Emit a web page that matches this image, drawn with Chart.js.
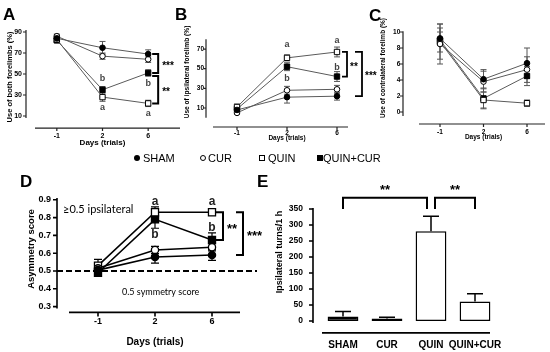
<!DOCTYPE html>
<html>
<head>
<meta charset="utf-8">
<script src="https://cdn.jsdelivr.net/npm/chart.js@4.4.0/dist/chart.umd.min.js"></script>
<style>
  html, body { margin: 0; padding: 0; background: #fff; }
  #page { position: relative; width: 550px; height: 352px; overflow: hidden; font-family: Arial, "Liberation Sans", sans-serif; }
  #page canvas { position: absolute; left: 0; top: 0; }
  .letter { position: absolute; font-weight: bold; font-size: 17px; line-height: 17px; color: #000; }
  .leg { position: absolute; top: 152.6px; font-size: 11px; line-height: 11px; color: #000; white-space: nowrap; }
  .mk { position: absolute; top: 155px; width: 6px; height: 6px; box-sizing: border-box; }
  .dot { background: #000; border-radius: 50%; }
  .ring { border: 1px solid #000; border-radius: 50%; }
  .box { border: 1.5px solid #000; }
  .blk { background: #000; }
</style>
</head>
<body>
<div id="page">
  <canvas id="chartA" width="550" height="352"></canvas>
  <canvas id="chartB" width="550" height="352"></canvas>
  <canvas id="chartC" width="550" height="352"></canvas>
  <canvas id="chartD" width="550" height="352"></canvas>
  <canvas id="chartE" width="550" height="352"></canvas>

  <div class="letter" style="left:3px;top:6px">A</div>
  <div class="letter" style="left:175px;top:6px">B</div>
  <div class="letter" style="left:369px;top:7px">C</div>
  <div class="letter" style="left:20px;top:173px">D</div>
  <div class="letter" style="left:257px;top:173px">E</div>

  <span class="mk dot" style="left:134px"></span><div class="leg" style="left:143px">SHAM</div>
  <span class="mk ring" style="left:200px"></span><div class="leg" style="left:208px">CUR</div>
  <span class="mk box" style="left:259px"></span><div class="leg" style="left:268px">QUIN</div>
  <span class="mk blk" style="left:317px"></span><div class="leg" style="left:323px">QUIN+CUR</div>
</div>
<script>
var days = ['-1', '2', '6'];
var groups = ['SHAM', 'CUR', 'QUIN', 'QUIN+CUR'];

// A: use of both forelimbs (%)
var bothSham = [84, 75, 69];
var bothCur = [86, 67, 64];
var bothQuin = [83, 28, 22];
var bothQuinCur = [82, 35, 51];
var bothShamErr = [3, 6, 4];
var bothCurErr = [2, 3, 3];
var bothQuinErr = [3, 4, 3];
var bothQuinCurErr = [2, 3, 3];
var bothTicks = [10, 30, 50, 70, 90];

// B: use of ipsilateral forelimb (%)
var ipsiSham = [8, 21, 22];
var ipsiCur = [5, 28, 29];
var ipsiQuin = [11, 61, 67];
var ipsiQuinCur = [9, 52, 42];
var ipsiShamErr = [2, 6, 4];
var ipsiCurErr = [1, 4, 4];
var ipsiQuinErr = [3, 3, 5];
var ipsiQuinCurErr = [2, 4, 5];
var ipsiTicks = [10, 30, 50, 70];

// C: use of contralateral forelimb (%)
var contraSham = [9.2, 4.1, 6.1];
var contraCur = [8.5, 3.8, 5.3];
var contraQuin = [8.8, 1.5, 1.1];
var contraQuinCur = [9.0, 1.7, 4.5];
var contraShamErr = [0.8, 1.2, 1.9];
var contraCurErr = [2.5, 1.3, 1.6];
var contraQuinErr = [2.2, 1.0, 0.4];
var contraQuinCurErr = [1.5, 1.3, 1.2];
var contraTicks = [0, 2, 4, 6, 8, 10];

// D: asymmetry score
var asymSham = [0.505, 0.579, 0.59];
var asymCur = [0.515, 0.618, 0.633];
var asymQuin = [0.53, 0.83, 0.83];
var asymQuinCur = [0.49, 0.79, 0.674];
var asymShamErr = [0.01, 0.035, 0.03];
var asymCurErr = [0.015, 0.02, 0.02];
var asymQuinErr = [0.035, 0.03, 0.015];
var asymQuinCurErr = [0.01, 0.05, 0.04];
var asymTicks = [0.3, 0.4, 0.5, 0.6, 0.7, 0.8, 0.9];

// E: ipsilateral turns per hour
var turns = [14, 8, 280, 61];
var turnsErr = [16, 4, 47, 24];
var turnsTicks = [0, 50, 100, 150, 200, 250, 300, 350];

var looks = [
    { style: 'circle', fill: '#000' },
    { style: 'circle', fill: '#fff' },
    { style: 'rect', fill: '#fff' },
    { style: 'rect', fill: '#000' }
];

var FONT = 'Arial, "Liberation Sans", sans-serif';
Chart.defaults.font.family = FONT;
Chart.defaults.color = '#000';

// GraphPad-like detached axes, drawn against the chart's scales
var gpAxes = {
    id: 'gpAxes',
    afterDraw: function (chart, args, o) {
        var ctx = chart.ctx, area = chart.chartArea;
        var xs = chart.scales.x, ys = chart.scales.y;
        var yx = area.left - o.yGap, xy = area.bottom + o.xGap;
        ctx.save();
        ctx.strokeStyle = o.color;
        ctx.lineWidth = o.width;
        ctx.beginPath();
        ctx.moveTo(yx, ys.top);
        ctx.lineTo(yx, ys.bottom);
        ys.ticks.forEach(function (t) {
            var p = ys.getPixelForValue(t.value);
            ctx.moveTo(yx - o.yTick, p);
            ctx.lineTo(yx, p);
        });
        ctx.moveTo(o.xFrom, xy);
        ctx.lineTo(o.xTo, xy);
        if (o.xTick) {
            xs.ticks.forEach(function (t, i) {
                var p = xs.getPixelForTick(i);
                ctx.moveTo(p, xy);
                ctx.lineTo(p, xy + o.xTick);
            });
        }
        ctx.stroke();
        if (o.yTitle) {
            ctx.translate(o.yTitle.x, o.yTitle.y);
            ctx.rotate(-Math.PI / 2);
            ctx.font = o.yTitle.font;
            ctx.fillStyle = '#000';
            ctx.textAlign = 'center';
            ctx.textBaseline = 'middle';
            ctx.fillText(o.yTitle.text, 0, 0);
        }
        ctx.restore();
    }
};

var errorBars = {
    id: 'errorBars',
    beforeDatasetsDraw: function (chart, args, o) {
        var ctx = chart.ctx, ys = chart.scales.y;
        chart.data.datasets.forEach(function (ds, i) {
            if (!ds.errors) {
                return;
            }
            var meta = chart.getDatasetMeta(i);
            ctx.save();
            ctx.strokeStyle = o.color;
            ctx.lineWidth = o.width;
            ctx.beginPath();
            meta.data.forEach(function (el, j) {
                var v = ds.data[j], e = ds.errors[j], x = el.x, c = o.cap;
                var top = ys.getPixelForValue(v + e);
                var bot = ys.getPixelForValue(o.upOnly ? v : v - e);
                ctx.moveTo(x, top);
                ctx.lineTo(x, bot);
                ctx.moveTo(x - c, top);
                ctx.lineTo(x + c, top);
                if (!o.upOnly) {
                    ctx.moveTo(x - c, bot);
                    ctx.lineTo(x + c, bot);
                }
            });
            ctx.stroke();
            ctx.restore();
        });
    }
};

// group letters, significance brackets, notes
var marks = {
    id: 'marks',
    afterDatasetsDraw: function (chart, args, o) {
        var ctx = chart.ctx, xs = chart.scales.x, ys = chart.scales.y;
        var sets = chart.data.datasets;
        ctx.save();
        ctx.strokeStyle = '#000';
        ctx.lineWidth = o.lineWidth || 1.5;
        (o.hlines || []).forEach(function (h) {
            var y = ys.getPixelForValue(h.value);
            ctx.save();
            ctx.setLineDash(h.dash);
            ctx.beginPath();
            ctx.moveTo(h.x1, y);
            ctx.lineTo(h.x2, y);
            ctx.stroke();
            ctx.restore();
        });
        (o.letters || []).forEach(function (m) {
            var x = xs.getPixelForValue(m.at);
            var y = ys.getPixelForValue(sets[m.ds].data[m.at]) + m.dy;
            ctx.font = o.letterFont;
            ctx.fillStyle = o.letterColor;
            ctx.textAlign = 'center';
            ctx.textBaseline = 'middle';
            ctx.fillText(m.text, x, y);
        });
        (o.brackets || []).forEach(function (b) {
            var x = xs.getPixelForValue(b.at) + b.dx;
            var y1 = ys.getPixelForValue(sets[b.from].data[b.at]) + (b.pad1 || 0);
            var y2 = ys.getPixelForValue(sets[b.to].data[b.at]) + (b.pad2 || 0);
            ctx.beginPath();
            ctx.moveTo(x - b.arm, y1);
            ctx.lineTo(x, y1);
            ctx.lineTo(x, y2);
            ctx.lineTo(x - b.arm, y2);
            ctx.stroke();
            ctx.font = o.starFont;
            ctx.fillStyle = '#000';
            ctx.textAlign = 'left';
            ctx.textBaseline = 'middle';
            ctx.fillText(b.text, x + b.gap, (y1 + y2) / 2 + o.starDrop);
        });
        (o.spans || []).forEach(function (s) {
            var x1 = xs.getPixelForValue(s.from) + s.dx1;
            var x2 = xs.getPixelForValue(s.to) + s.dx2;
            var top = ys.getPixelForValue(s.top), leg = ys.getPixelForValue(s.leg);
            ctx.beginPath();
            ctx.moveTo(x1, leg);
            ctx.lineTo(x1, top);
            ctx.lineTo(x2, top);
            ctx.lineTo(x2, leg);
            ctx.stroke();
            ctx.font = o.starFont;
            ctx.fillStyle = '#000';
            ctx.textAlign = 'center';
            ctx.textBaseline = 'middle';
            ctx.fillText(s.text, (x1 + x2) / 2, top - s.lift);
        });
        (o.notes || []).forEach(function (n) {
            ctx.font = n.font;
            ctx.fillStyle = '#000';
            ctx.textAlign = 'left';
            ctx.textBaseline = 'middle';
            ctx.fillText(n.text, n.x, n.y);
        });
        ctx.restore();
    }
};

function lineSets(values, errors, size, line) {
    return values.map(function (v, i) {
        var lk = looks[i];
        return {
            label: groups[i],
            data: v,
            errors: errors[i],
            borderColor: line.color,
            borderWidth: line.width,
            pointStyle: lk.style,
            pointRadius: lk.style === 'rect' ? size.rect : size.circle,
            pointBackgroundColor: lk.fill,
            pointBorderColor: '#000',
            pointBorderWidth: size.border,
            tension: 0,
            clip: false
        };
    });
}

function linePanel(id, sets, g) {
    var yw = Math.min(g.left, g.yPad + 30);
    var xh = g.xTitleY - g.bottom + g.titleFont.size * 0.6;
    return new Chart(document.getElementById(id), {
        type: 'line',
        data: { labels: days, datasets: sets },
        options: {
            responsive: false,
            animation: false,
            events: [],
            layout: {
                autoPadding: false,
                padding: { left: g.left - yw, top: g.top, right: 550 - g.right, bottom: 352 - g.bottom - xh }
            },
            plugins: {
                legend: { display: false },
                tooltip: { enabled: false },
                gpAxes: g.axes,
                errorBars: g.err,
                marks: g.marks
            },
            scales: {
                x: {
                    type: 'category',
                    offset: true,
                    grid: { display: false, drawTicks: false },
                    border: { display: false },
                    ticks: { font: g.xFont, padding: g.xPad, maxRotation: 0, autoSkip: false },
                    title: { display: true, text: 'Days (trials)', font: g.titleFont, padding: 0 },
                    afterFit: function (s) { s.height = xh; }
                },
                y: {
                    min: g.min,
                    max: g.max,
                    grid: { display: false, drawTicks: false },
                    border: { display: false },
                    ticks: { font: g.yFont, padding: g.yPad, callback: function (v) { return String(v); } },
                    afterBuildTicks: function (s) { s.ticks = g.ticks.map(function (v) { return { value: v }; }); },
                    afterFit: function (s) { s.width = yw; }
                }
            }
        },
        plugins: [gpAxes, errorBars, marks]
    });
}

var smallLine = { color: '#5a5a5a', width: 1 };
var smallMarks = { circle: 2.8, rect: 3.8, border: 1 };

linePanel('chartA', lineSets(
    [bothSham, bothCur, bothQuin, bothQuinCur],
    [bothShamErr, bothCurErr, bothQuinErr, bothQuinCurErr], smallMarks, smallLine), {
    left: 34, right: 171, top: 29.9, bottom: 118.1, min: 8, max: 92, ticks: bothTicks,
    yFont: { size: 7, weight: 'bold' }, yPad: 12,
    xFont: { size: 7, weight: 'bold' }, xPad: 14,
    titleFont: { size: 8, weight: 'bold' }, xTitleY: 143,
    axes: { yGap: 8, xGap: 10, xFrom: 35, xTo: 180, yTick: 3, xTick: 3, width: 1.2, color: '#222',
        yTitle: { text: 'Use of both forelimbs (%)', x: 10, y: 77, font: 'bold 7.5px ' + FONT } },
    err: { cap: 3, width: 1, color: '#555' },
    marks: {
        letterFont: 'bold 9px ' + FONT, letterColor: '#444', starFont: 'bold 10px ' + FONT, starDrop: 2.5, lineWidth: 2,
        letters: [
            { ds: 3, at: 1, text: 'b', dy: -11 }, { ds: 2, at: 1, text: 'a', dy: 10 },
            { ds: 3, at: 2, text: 'b', dy: 11 }, { ds: 2, at: 2, text: 'a', dy: 10 }
        ],
        brackets: [
            { from: 0, to: 3, at: 2, dx: 10, arm: 6, gap: 4, text: '***' },
            { from: 3, to: 2, at: 2, dx: 10, arm: 6, gap: 4, text: '**', pad1: 3 }
        ]
    }
});

linePanel('chartB', lineSets(
    [ipsiSham, ipsiCur, ipsiQuin, ipsiQuinCur],
    [ipsiShamErr, ipsiCurErr, ipsiQuinErr, ipsiQuinCurErr], smallMarks, smallLine), {
    left: 212, right: 362, top: 39.2, bottom: 117.8, min: 0, max: 80, ticks: ipsiTicks,
    yFont: { size: 6.5, weight: 'bold' }, yPad: 8,
    xFont: { size: 6.5, weight: 'bold' }, xPad: 12,
    titleFont: { size: 6.5, weight: 'bold' }, xTitleY: 138.5,
    axes: { yGap: 6, xGap: 9.2, xFrom: 213, xTo: 348, yTick: 2.5, xTick: 3, width: 1.2, color: '#222',
        yTitle: { text: 'Use of ipsilateral forelimb (%)', x: 187, y: 72, font: 'bold 6.6px ' + FONT } },
    err: { cap: 3, width: 1, color: '#555' },
    marks: {
        letterFont: 'bold 9px ' + FONT, letterColor: '#444', starFont: 'bold 10px ' + FONT, starDrop: 2.5, lineWidth: 1.8,
        letters: [
            { ds: 2, at: 1, text: 'a', dy: -13 }, { ds: 3, at: 1, text: 'b', dy: 12 },
            { ds: 2, at: 2, text: 'a', dy: -11 }, { ds: 3, at: 2, text: 'b', dy: -9 }
        ],
        brackets: [
            { from: 2, to: 3, at: 2, dx: 10, arm: 5, gap: 3, text: '**' },
            { from: 2, to: 0, at: 2, dx: 25, arm: 7, gap: 3, text: '***' }
        ]
    }
});

linePanel('chartC', lineSets(
    [contraSham, contraCur, contraQuin, contraQuinCur],
    [contraShamErr, contraCurErr, contraQuinErr, contraQuinCurErr], smallMarks, smallLine), {
    left: 418.25, right: 548.75, top: 31.2, bottom: 116, min: -0.5, max: 10.1, ticks: contraTicks,
    yFont: { size: 6.5, weight: 'bold' }, yPad: 18,
    xFont: { size: 6.5, weight: 'bold' }, xPad: 12,
    titleFont: { size: 6.5, weight: 'bold' }, xTitleY: 137.5,
    axes: { yGap: 15.25, xGap: 8, xFrom: 419, xTo: 545, yTick: 3, xTick: 3, width: 1.2, color: '#222',
        yTitle: { text: 'Use of contralateral forelimb (%)', x: 383, y: 68, font: 'bold 6.5px ' + FONT } },
    err: { cap: 3, width: 1, color: '#555' },
    marks: {}
});

linePanel('chartD', lineSets(
    [asymSham, asymCur, asymQuin, asymQuinCur],
    [asymShamErr, asymCurErr, asymQuinErr, asymQuinCurErr],
    { circle: 3.6, rect: 5, border: 1.3 }, { color: '#000', width: 1.6 }), {
    left: 69.5, right: 240.5, top: 198, bottom: 308.4, min: 0.29, max: 0.91, ticks: asymTicks,
    yFont: { size: 9, weight: 'bold' }, yPad: 18.5,
    xFont: { size: 9, weight: 'bold' }, xPad: 8,
    titleFont: { size: 10, weight: 'bold' }, xTitleY: 342,
    axes: { yGap: 12.5, xGap: 4, xFrom: 69, xTo: 240, yTick: 4, xTick: 4, width: 1.6, color: '#000',
        yTitle: { text: 'Asymmetry score', x: 31, y: 249, font: 'bold 9.5px ' + FONT } },
    err: { cap: 4, width: 1.2, color: '#000' },
    marks: {
        letterFont: 'bold 12px ' + FONT, letterColor: '#222', starFont: 'bold 13px ' + FONT, starDrop: 3, lineWidth: 2,
        hlines: [{ value: 0.5, x1: 57, x2: 257, dash: [6, 3] }],
        letters: [
            { ds: 2, at: 1, text: 'a', dy: -11 }, { ds: 3, at: 1, text: 'b', dy: 15 },
            { ds: 2, at: 2, text: 'a', dy: -11 }, { ds: 3, at: 2, text: 'b', dy: -12 }
        ],
        brackets: [
            { from: 2, to: 3, at: 2, dx: 11, arm: 7, gap: 4, text: '**' },
            { from: 2, to: 0, at: 2, dx: 31, arm: 7, gap: 4, text: '***' }
        ],
        notes: [
            { text: '\u22650.5 ipsilateral', x: 63, y: 209, font: '11px Lato, ' + FONT },
            { text: '0.5 symmetry score', x: 122, y: 292, font: '9px Lato, ' + FONT }
        ]
    }
});

// E: bar chart
(function () {
    var yPad = 18, yw = yPad + 30, xh = 30;
    var left = 321, right = 497, top = 208, bottom = 322.9;
    new Chart(document.getElementById('chartE'), {
        type: 'bar',
        data: {
            labels: groups,
            datasets: [{
                data: turns,
                errors: turnsErr,
                backgroundColor: ['#000', '#c8c8c8', '#fff', '#fff'],
                borderColor: '#000',
                borderWidth: 1.5,
                borderSkipped: false,
                barPercentage: 0.7,
                categoryPercentage: 1
            }]
        },
        options: {
            responsive: false,
            animation: false,
            events: [],
            layout: {
                autoPadding: false,
                padding: { left: left - yw, top: top, right: 550 - right, bottom: 352 - bottom - xh }
            },
            plugins: {
                legend: { display: false },
                tooltip: { enabled: false },
                gpAxes: { yGap: 8, xGap: 10, xFrom: 322, xTo: 490, yTick: 4, xTick: 0, width: 1.6, color: '#000',
                    yTitle: { text: 'Ipsilateral turns/1 h', x: 280, y: 252, font: 'bold 9px ' + FONT } },
                errorBars: { cap: 8, width: 1.5, color: '#000', upOnly: true },
                marks: {
                    starFont: 'bold 13px ' + FONT, lineWidth: 2,
                    spans: [
                        { from: 0, to: 2, dx1: 0, dx2: -4, top: 385, leg: 350, text: '**', lift: 7 },
                        { from: 2, to: 3, dx1: 4, dx2: 0, top: 385, leg: 350, text: '**', lift: 7 }
                    ]
                }
            },
            scales: {
                x: {
                    grid: { display: false, drawTicks: false },
                    border: { display: false },
                    ticks: { font: { size: 10, weight: 'bold' }, padding: 16, maxRotation: 0, autoSkip: false },
                    afterFit: function (s) { s.height = xh; }
                },
                y: {
                    min: -6,
                    max: 353,
                    grid: { display: false, drawTicks: false },
                    border: { display: false },
                    ticks: { font: { size: 8.5, weight: 'bold' }, padding: yPad, callback: function (v) { return String(v); } },
                    afterBuildTicks: function (s) { s.ticks = turnsTicks.map(function (v) { return { value: v }; }); },
                    afterFit: function (s) { s.width = yw; }
                }
            }
        },
        plugins: [gpAxes, errorBars, marks]
    });
})();
</script>
</body>
</html>
